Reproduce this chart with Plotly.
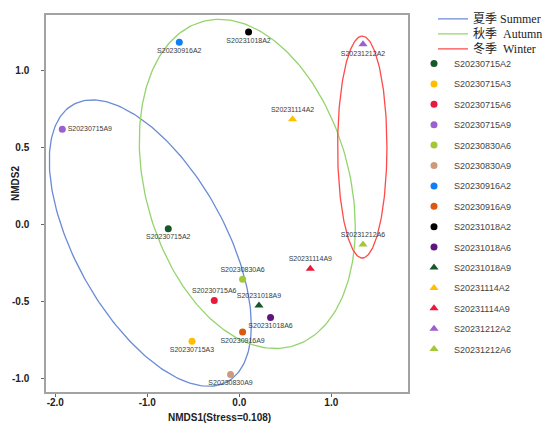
import numpy as np
import plotly.graph_objects as go

# NMDS scores
samples = ["S20230715A2", "S20230715A3", "S20230715A6", "S20230715A9",
           "S20230830A6", "S20230830A9", "S20230916A2", "S20230916A9",
           "S20231018A2", "S20231018A6", "S20231018A9", "S20231114A2",
           "S20231114A9", "S20231212A2", "S20231212A6"]
nmds1 = [-0.772, -0.514, -0.272, -1.924, 0.036, -0.095, -0.652, 0.036,
         0.101, 0.340, 0.214, 0.579, 0.772, 1.345, 1.345]
nmds2 = [-0.030, -0.760, -0.496, 0.615, -0.357, -0.976, 1.180, -0.700,
         1.247, -0.606, -0.528, 0.680, -0.290, 1.167, -0.132]

# season ellipses (centre, radii, phase in degrees)
seasons = ["夏季 Summer", "秋季  Autumn", "冬季  Winter"]
ell_cx = [-0.967, 0.087, 1.337]
ell_cy = [-0.123, 0.261, 0.500]
ell_rx = [1.098, 1.174, 0.268]
ell_ry = [0.929, 1.068, 0.720]
ell_phase = [125.1, 105.1, 90.0]

season_colors = ["#6a8bd6", "#94d46c", "#ff4a4a"]
point_colors = ["#17582a", "#ffbf00", "#e8193c", "#9b5fd0", "#a2c83a",
                "#cf9a7c", "#0f7ff5", "#d95a10", "#000000", "#5e1580",
                "#17582a", "#ffbf00", "#e8193c", "#9b5fd0", "#a2c83a"]
label_pos = {"S20230715A6": "top center", "S20230830A6": "top center",
             "S20231018A9": "top center", "S20231114A2": "top center",
             "S20231114A9": "top center", "S20231212A6": "top center",
             "S20230715A9": "middle right"}

W, H = 550, 430
ML, MR, MT, MB = 46, 142, 15, 38
PW, PH = W - ML - MR, H - MT - MB


def px_x(px):
    return (px - ML) / PW


def px_y(py):
    return (H - MB - py) / PH


fig = go.Figure()

# each season line gets its own little legend so the rows sit tight
season_legends = ["legend", "legend2", "legend3"]
t = np.linspace(0, 2 * np.pi, 240)
for i, name in enumerate(seasons):
    ph = np.deg2rad(ell_phase[i])
    fig.add_trace(go.Scatter(
        x=ell_cx[i] + ell_rx[i] * np.cos(t),
        y=ell_cy[i] + ell_ry[i] * np.cos(t - ph),
        mode="lines", name=name,
        line=dict(color=season_colors[i], width=1.3),
        legend=season_legends[i], hoverinfo="skip"
    ))

for i, s in enumerate(samples):
    symbol = "circle" if i < 10 else "triangle-up"
    fig.add_trace(go.Scatter(
        x=[nmds1[i]], y=[nmds2[i]],
        mode="markers+text", name=s, text=[s],
        textposition=label_pos.get(s, "bottom center"),
        textfont=dict(family="Liberation Sans", size=7, color="#3a3a3a"),
        marker=dict(color=point_colors[i], size=7 if symbol == "circle" else 8,
                    symbol=symbol),
        legend="legend4", legendgroup=s
    ))

tickfont = dict(family="Liberation Sans", size=10, color="#222", weight="bold")
axis_common = dict(showgrid=False, zeroline=False, showline=True, mirror=True,
                   linecolor="#a3a3a3", linewidth=1.5, ticks="outside",
                   tickcolor="#666", ticklen=3, tickfont=tickfont)

season_font = dict(family="Liberation Serif, Noto Sans CJK SC", size=12,
                   color="#222")
legend_layout = {}
for i, lg in enumerate(season_legends):
    legend_layout[lg] = dict(x=px_x(433), y=px_y(4.3 + 15 * i),
                             xanchor="left", yanchor="top", font=season_font,
                             bgcolor="rgba(0,0,0,0)")

fig.update_layout(
    width=W, height=H,
    margin=dict(l=ML, r=MR, t=MT, b=MB, autoexpand=False),
    plot_bgcolor="white", paper_bgcolor="white",
    showlegend=True,
    xaxis=dict(range=[-2.101, 1.834], tickvals=[-2, -1, 0, 1],
               ticktext=["-2.0", "-1.0", "0.0", "1.0"],
               ticklabelstandoff=-3, **axis_common),
    yaxis=dict(range=[-1.089, 1.357], tickvals=[-1, -0.5, 0, 0.5, 1],
               ticktext=["-1.0", "-0.5", "0.0", "0.5", "1.0"],
               ticklabelstandoff=10, **axis_common),
    legend4=dict(x=px_x(414), y=px_y(49), xanchor="left", yanchor="top",
                 font=dict(family="Liberation Sans", size=9, color="#444"),
                 tracegroupgap=1.4, bgcolor="rgba(0,0,0,0)"),
    annotations=[
        dict(text="NMDS1(Stress=0.108)", x=px_x(219), y=px_y(417),
             xref="paper", yref="paper", xanchor="center", yanchor="middle",
             showarrow=False,
             font=dict(family="Liberation Sans", size=10, color="#222",
                       weight="bold")),
        dict(text="NMDS2", textangle=-90, x=px_x(15), y=px_y(184),
             xref="paper", yref="paper", xanchor="center", yanchor="middle",
             showarrow=False,
             font=dict(family="Liberation Sans", size=10, color="#222",
                       weight="bold")),
    ],
    **legend_layout,
)

# drop the default body margin so the 550x430 figure fills the window
fig.write_html("out.html", config={"displayModeBar": False},
               post_script="document.body.style.margin='0';")
